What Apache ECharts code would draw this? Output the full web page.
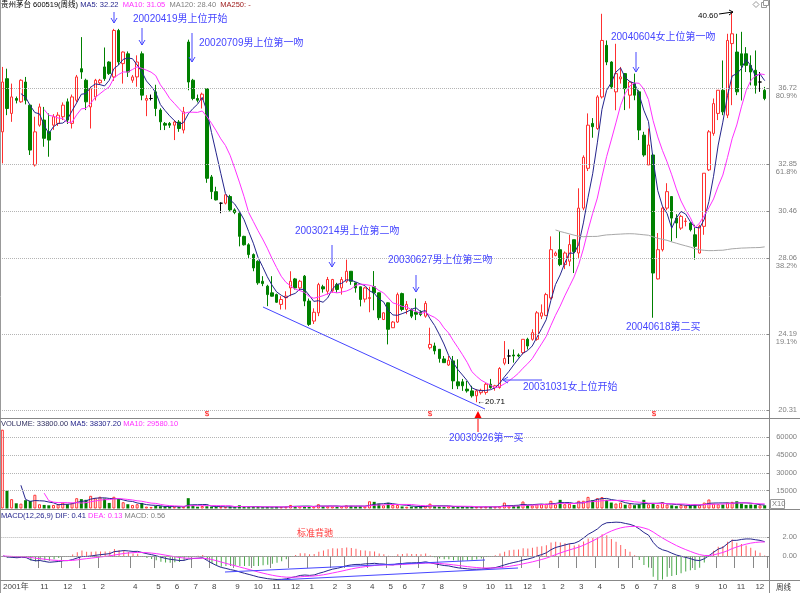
<!DOCTYPE html>
<html>
<head>
<meta charset="utf-8">
<title>贵州茅台 600519 周线</title>
<script src="https://cdn.jsdelivr.net/npm/echarts@6/dist/echarts.min.js"></script>
<style>
  html, body { margin: 0; padding: 0; background: #fff; }
  #main { width: 800px; height: 593px; }
</style>
</head>
<body>
<div id="main"></div>
<script>
// weekly bars: [open, close, low, high]
var kline = [
  [34.50, 37.04, 32.89, 37.81], [37.21, 35.69, 35.35, 37.72], [35.44, 36.28, 35.01, 36.96], [36.20, 36.11, 35.95, 36.30],
  [36.03, 37.13, 35.98, 37.18], [37.04, 36.11, 35.90, 37.30], [35.86, 33.57, 33.32, 35.90], [32.81, 34.50, 32.73, 35.27],
  [34.84, 35.77, 34.76, 35.94], [35.10, 34.17, 33.74, 35.77], [34.50, 34.08, 33.23, 35.44], [34.84, 35.27, 34.60, 35.40],
  [34.93, 35.35, 34.80, 35.50], [35.27, 35.86, 35.10, 36.00], [36.03, 35.10, 34.90, 36.20], [34.93, 36.28, 34.67, 36.40],
  [36.11, 37.30, 36.00, 37.40], [37.72, 37.55, 37.20, 39.33], [37.13, 36.03, 35.61, 37.21], [35.77, 36.70, 34.67, 36.80],
  [36.28, 37.13, 36.10, 37.20], [37.00, 37.13, 36.90, 37.20], [37.81, 37.21, 37.10, 38.80], [38.06, 37.47, 37.40, 38.10],
  [37.30, 39.67, 37.10, 39.75], [39.67, 38.06, 37.90, 39.75], [37.98, 38.57, 36.96, 38.60], [38.48, 37.55, 37.30, 38.60],
  [37.13, 37.30, 37.00, 37.40], [37.30, 38.06, 36.80, 38.40], [38.48, 36.37, 36.11, 38.60], [36.11, 36.20, 35.30, 36.37],
  [36.20, 36.20, 36.10, 36.40], [36.54, 35.69, 35.30, 36.90], [35.61, 35.01, 34.59, 35.70], [34.93, 34.84, 34.59, 35.00],
  [34.93, 34.84, 34.70, 35.00], [34.84, 35.00, 34.08, 35.10], [35.00, 34.67, 34.50, 35.10], [34.59, 35.52, 34.42, 35.77],
  [39.08, 37.04, 36.62, 39.20], [37.13, 36.20, 36.11, 37.20], [36.20, 36.11, 36.00, 36.40], [36.15, 36.42, 35.69, 36.50],
  [36.70, 32.13, 31.90, 36.72], [32.20, 31.45, 31.07, 32.30], [31.45, 31.03, 31.00, 31.70], [30.86, 30.86, 30.35, 30.90],
  [30.86, 31.29, 30.80, 31.30], [31.20, 30.52, 30.44, 31.29], [30.52, 30.39, 30.30, 30.60], [30.35, 29.17, 28.66, 30.40],
  [29.17, 28.74, 28.70, 29.20], [28.74, 28.24, 28.07, 28.82], [28.24, 27.56, 27.39, 28.30], [27.90, 26.80, 26.70, 27.95],
  [26.88, 26.76, 26.63, 27.14], [26.63, 26.20, 25.61, 26.70], [26.29, 26.12, 26.10, 27.14], [26.20, 25.81, 25.78, 26.25],
  [25.70, 25.95, 25.44, 26.12], [26.04, 26.12, 25.44, 26.37], [26.54, 26.88, 26.12, 27.39], [27.00, 26.54, 26.46, 27.05],
  [26.54, 26.88, 26.40, 26.95], [27.14, 25.87, 25.61, 27.20], [25.87, 24.68, 24.60, 26.00], [24.85, 25.30, 24.70, 25.50],
  [25.27, 26.71, 25.10, 26.80], [26.60, 26.49, 26.30, 26.70], [26.37, 26.97, 26.20, 27.10], [26.40, 26.97, 26.30, 27.00],
  [26.71, 26.46, 26.30, 26.80], [26.54, 26.97, 26.20, 27.10], [26.88, 27.39, 26.80, 27.98], [27.39, 26.88, 26.70, 27.40],
  [26.80, 26.54, 26.30, 26.80], [26.60, 25.95, 25.60, 26.60], [25.97, 26.54, 25.80, 26.60], [26.00, 26.05, 25.30, 26.60],
  [26.60, 26.29, 25.40, 27.40], [26.29, 25.02, 24.90, 26.30], [24.93, 25.27, 24.90, 25.30], [25.78, 24.43, 23.66, 25.80],
  [24.51, 24.80, 24.50, 24.85], [24.80, 26.20, 24.75, 26.30], [26.25, 25.44, 25.35, 26.30], [25.44, 25.70, 25.20, 25.87],
  [25.44, 25.10, 25.00, 25.50], [25.30, 25.20, 24.90, 26.00], [25.30, 25.18, 25.10, 25.40], [25.10, 25.75, 25.02, 25.87],
  [23.49, 23.66, 23.40, 24.51], [23.58, 23.33, 23.15, 23.75], [23.41, 22.94, 22.73, 23.41], [22.92, 22.73, 22.73, 23.07],
  [22.61, 22.85, 22.56, 23.07], [22.82, 21.80, 21.38, 23.07], [21.75, 21.55, 21.38, 22.90], [21.75, 21.55, 21.29, 21.90],
  [21.38, 21.29, 21.20, 21.80], [21.29, 21.04, 20.95, 21.55], [21.04, 21.29, 20.71, 21.38], [21.20, 21.32, 21.10, 21.40],
  [21.21, 21.63, 21.10, 21.70], [21.63, 21.46, 21.40, 21.90], [21.46, 21.55, 21.30, 21.60], [21.46, 22.43, 21.40, 22.50],
  [22.70, 22.94, 22.60, 23.83], [23.07, 23.07, 22.66, 23.40], [23.12, 23.07, 22.73, 23.40], [23.12, 23.07, 23.00, 23.20],
  [23.24, 23.92, 23.15, 23.92], [23.92, 23.58, 23.40, 24.00], [23.92, 24.26, 23.85, 24.43], [23.92, 25.27, 23.85, 25.36],
  [25.10, 25.27, 24.95, 25.70], [25.14, 26.20, 25.10, 26.29], [26.03, 28.49, 25.95, 29.17], [28.20, 28.32, 28.15, 28.40],
  [28.49, 27.73, 27.65, 29.42], [27.73, 28.32, 27.50, 28.40], [27.90, 28.75, 27.65, 29.25], [29.00, 28.40, 27.30, 29.00],
  [28.32, 30.61, 28.07, 31.62], [30.61, 33.20, 30.50, 33.30], [32.64, 34.84, 32.50, 35.44], [34.93, 34.76, 34.20, 35.20],
  [34.67, 36.28, 34.60, 36.37], [36.28, 39.16, 36.20, 40.52], [38.91, 38.06, 37.90, 39.16], [38.06, 36.79, 36.70, 38.10],
  [36.54, 37.47, 35.60, 38.99], [37.20, 37.30, 36.96, 37.81], [37.47, 36.70, 35.61, 37.50], [36.37, 37.04, 35.69, 37.10],
  [36.96, 36.37, 36.11, 37.47], [36.54, 34.59, 34.08, 36.62], [34.33, 33.32, 33.23, 34.50], [32.81, 33.83, 32.81, 34.67],
  [33.32, 27.30, 25.02, 33.40], [27.00, 28.49, 26.97, 29.34], [28.49, 30.61, 28.40, 30.70], [30.61, 31.45, 30.50, 31.88],
  [31.20, 30.10, 28.91, 31.20], [30.10, 29.85, 29.08, 30.30], [29.59, 30.19, 29.50, 30.27], [29.93, 29.95, 29.68, 30.10],
  [29.85, 29.51, 29.42, 29.90], [29.25, 28.66, 27.98, 29.76], [28.32, 29.68, 28.30, 29.76], [29.68, 32.39, 29.25, 32.39],
  [32.56, 34.50, 32.50, 34.59], [34.42, 35.94, 34.30, 36.20], [35.44, 36.62, 35.10, 36.62], [36.62, 35.52, 35.35, 38.14],
  [35.35, 39.16, 35.20, 39.50], [39.00, 39.50, 35.86, 40.60], [38.57, 36.54, 36.37, 39.50], [38.48, 37.89, 36.10, 39.60],
  [38.48, 37.89, 37.55, 38.82], [37.89, 37.55, 36.87, 38.40], [37.64, 36.87, 36.45, 38.65], [37.04, 37.04, 36.54, 37.55],
  [36.62, 36.20, 36.11, 36.79]
];

var volume = [
  66400, 15000, 7900, 4400, 4100, 7000, 6400, 11600, 3600, 3000,
  2700, 3000, 3600, 5000, 3600, 4700, 8700, 7900, 7300, 10700,
  8700, 9900, 8400, 4700, 9900, 7900, 5300, 3600, 3000, 3600,
  4700, 1600, 1300, 2100, 1900, 1300, 1500, 1300, 1500, 1500,
  8700, 2700, 1500, 2100, 1900, 1500, 1300, 1200, 1300, 1500,
  1200, 2700, 1300, 1200, 1500, 1400, 1200, 1300, 1100, 1400,
  1300, 1500, 3000, 2000, 1900, 1700, 1500, 1600, 3600, 1800,
  1900, 1700, 1600, 2000, 2700, 2200, 1700, 1800, 1600, 6100,
  5600, 4100, 2700, 4700, 3000, 3000, 1700, 1500, 1500, 1300,
  2000, 2000, 4100, 1900, 1700, 1500, 2000, 1500, 1300, 1300,
  1200, 1500, 1300, 1300, 1600, 1400, 1500, 2000, 5000, 2000,
  2200, 2500, 5900, 3000, 2600, 3600, 3600, 4100, 6500, 3500,
  7300, 3600, 4000, 3000, 6500, 6500, 9800, 7000, 8700, 9600,
  7300, 5000, 4200, 5000, 3200, 3600, 2800, 3600, 7300, 3600,
  4500, 3000, 5300, 3300, 2700, 2000, 3000, 2500, 2700, 3300,
  3000, 5000, 7600, 4100, 3600, 3300, 5000, 5600, 6100, 4100,
  3000, 3300, 3000, 2700, 2700
];

// month marks on the time axis (index of first week of each month)
var monthTickIdx = [0, 8, 13, 17, 21, 28, 33, 37, 41, 45, 50, 54, 58, 62, 66, 71, 74, 79, 83, 86, 90, 94, 99, 104, 108, 112, 116, 120, 124, 128, 133, 136, 140, 144, 149, 154, 158, 162];
var monthLabels = ['2001年', '11', '12', '1', '2', '4', '5', '6', '7', '8', '9', '10', '11', '12', '1', '2', '3', '4', '5', '6', '7', '8', '9', '10', '11', '12', '1', '2', '3', '4', '5', '6', '7', '8', '9', '10', '11', '12'];

var priceTicks = [36.72, 32.85, 30.46, 28.06, 24.19, 20.31];
var priceTickPct = ['80.9%', '61.8%', '', '38.2%', '19.1%', ''];
var volTicks = [60000, 45000, 30000, 15000];
var macdTicks = [2, 0];

var weeks = kline.map(function (d, i) { return String(i); });
var closes = kline.map(function (d) { return d[1]; });

function calcMA(arr, n) {
  var out = [];
  for (var i = 0; i < arr.length; i++) {
    if (i < n - 1) { out.push('-'); continue; }
    var s = 0;
    for (var j = 0; j < n; j++) s += arr[i - j];
    out.push(+(s / n).toFixed(3));
  }
  return out;
}

function calcMACD(close) {
  var e12 = 0, e26 = 0, dea = 0;
  var res = { dif: [], dea: [], macd: [] };
  close.forEach(function (c, i) {
    e12 = i ? e12 * 11 / 13 + c * 2 / 13 : c;
    e26 = i ? e26 * 25 / 27 + c * 2 / 27 : c;
    var d = e12 - e26;
    dea = dea * 0.8 + d * 0.2;
    res.dif.push(+d.toFixed(4));
    res.dea.push(+dea.toFixed(4));
    res.macd.push(+(2 * (d - dea)).toFixed(4));
  });
  return res;
}

var macd = calcMACD(closes);

var RED = '#ff3030', GREEN = '#008000', NAVY = '#24248c', PINK = '#ff30ff', GREY = '#808080';
var FONT = '"Liberation Sans", "Noto Sans CJK SC", sans-serif';
var BLUE = '#4646ff';

var volData = volume.map(function (v, i) {
  var up = kline[i][1] >= kline[i][0];
  return { value: v, itemStyle: up ? { color: '#fff', borderColor: RED, borderWidth: 1 } : { color: GREEN } };
});
var histData = macd.macd.map(function (v) {
  return { value: v, itemStyle: { color: v >= 0 ? '#ff6060' : '#4aa84a' } };
});

function isMonth(idx) { return monthTickIdx.indexOf(idx) >= 0; }
function gridDots(vals) {
  return {
    silent: true, symbol: 'none', label: { show: false },
    lineStyle: { color: '#b4b4b4', type: 'dotted', width: 1 },
    data: vals.map(function (v) { return { yAxis: v }; })
  };
}

var myChart = echarts.init(document.getElementById('main'));

var graphics = [];
function addText(x, y, s, color, size, extra) {
  var st = { text: s, fill: color, font: size + 'px ' + FONT, textVerticalAlign: 'middle' };
  if (extra) for (var k in extra) st[k] = extra[k];
  graphics.push({ type: 'text', x: x, y: y, style: st, z: 100 });
}
function addLine(x1, y1, x2, y2, color) {
  graphics.push({ type: 'line', shape: { x1: x1, y1: y1, x2: x2, y2: y2 }, style: { stroke: color, lineWidth: 1 }, z: 100 });
}
function arrowDown(x, y1, y2, color) {
  addLine(x, y1, x, y2, color);
  graphics.push({ type: 'polyline', shape: { points: [[x - 3, y2 - 5], [x, y2], [x + 3, y2 - 5]] }, style: { stroke: color, fill: null, lineWidth: 1 }, z: 100 });
}

// headers
graphics.push({
  type: 'text', x: 1, y: 5, z: 100,
  style: {
    text: '{a|贵州茅台 600519(周线)} {b|MA5: 32.22}  {c|MA10: 31.05}  {d|MA120: 28.40}  {e|MA250: -}',
    font: '7.5px ' + FONT, textVerticalAlign: 'middle',
    rich: { a: { fill: '#000' }, b: { fill: NAVY }, c: { fill: PINK }, d: { fill: GREY }, e: { fill: '#a02020' } }
  }
});
graphics.push({
  type: 'text', x: 1, y: 424, z: 100,
  style: {
    text: '{a|VOLUME: 33800.00} {b|MA5: 38307.20} {c|MA10: 29580.10}',
    font: '7.5px ' + FONT, textVerticalAlign: 'middle',
    rich: { a: { fill: '#303060' }, b: { fill: NAVY }, c: { fill: PINK } }
  }
});
graphics.push({
  type: 'text', x: 1, y: 516, z: 100,
  style: {
    text: '{a|MACD(12,26,9) DIF: 0.41} {b|DEA: 0.13} {c|MACD: 0.56}',
    font: '7.5px ' + FONT, textVerticalAlign: 'middle',
    rich: { a: { fill: NAVY }, b: { fill: PINK }, c: { fill: GREY } }
  }
});

// annotations
arrowDown(114, 12, 23, BLUE);
arrowDown(142, 28, 45, BLUE);
addText(133, 19, '20020419男上位开始', BLUE, 10);
arrowDown(192, 33, 62, BLUE);
addText(199, 43, '20020709男上位第一吻', BLUE, 10);
arrowDown(332, 245, 267, BLUE);
addText(295, 231, '20030214男上位第二吻', BLUE, 10);
arrowDown(416, 275, 292, BLUE);
addText(388, 260, '20030627男上位第三吻', BLUE, 10);
arrowDown(636, 52, 72, BLUE);
addText(611, 37, '20040604女上位第一吻', BLUE, 10);
addText(626, 327, '20040618第二买', BLUE, 10);
addLine(503, 380, 542, 380, BLUE);
graphics.push({ type: 'polyline', shape: { points: [[508, 377], [503, 380], [508, 383]] }, style: { stroke: BLUE, fill: null, lineWidth: 1 }, z: 100 });
addText(523, 387, '20031031女上位开始', BLUE, 10);
addText(449, 438, '20030926第一买', BLUE, 10);
addLine(478, 416, 478, 432, '#ff0000');
graphics.push({ type: 'polygon', shape: { points: [[474.5, 418], [478, 411], [481.5, 418]] }, style: { fill: '#ff0000' }, z: 100 });
addText(477, 402, '←20.71', '#000', 8);
addText(698, 16, '40.60', '#000', 8);
addLine(719, 14, 733, 12, '#000');
graphics.push({ type: 'polyline', shape: { points: [[729, 10], [733, 12], [729, 15]] }, style: { stroke: '#000', fill: null, lineWidth: 1 }, z: 100 });
addLine(263, 307, 485, 409, BLUE);
[207, 430, 654].forEach(function (x) { addText(x, 414, '$', '#ff0000', 8, { textAlign: 'center' }); });
addLine(225, 572, 485, 560, BLUE);
addLine(277, 580, 518, 568, BLUE);
addText(297, 534, '标准背驰', '#ff3030', 9);
// frame
addLine(0.5, 0, 0.5, 593, '#999');
addLine(769.5, 0, 769.5, 593, '#888');
addLine(0, 418.5, 800, 418.5, '#888');
addLine(0, 509.5, 800, 509.5, '#888');
addLine(0, 580.5, 800, 580.5, '#888');
graphics.push({ type: 'rect', shape: { x: 770.5, y: 499.5, width: 14, height: 9 }, style: { stroke: '#999', fill: '#fff' }, z: 100 });
addText(772, 504, 'X10', GREY, 7.5);
addText(776, 588, '周线', '#333', 7.5);
graphics.push({ type: 'polygon', shape: { points: [[756, 1.5], [759, 4.5], [756, 7.5], [753, 4.5]] }, style: { stroke: '#999', fill: null }, z: 100 });
graphics.push({ type: 'rect', shape: { x: 761.5, y: 2.5, width: 5, height: 5 }, style: { stroke: '#999', fill: '#fff' }, z: 100 });
graphics.push({ type: 'rect', shape: { x: 763.5, y: 0.5, width: 5, height: 5 }, style: { stroke: '#999', fill: '#fff' }, z: 100 });

function yAxisCfg(grid, min, max, ticks, fmt) {
  return {
    type: 'value', gridIndex: grid, position: 'right', min: min, max: max,
    axisLine: { show: false },
    splitLine: { show: false },
    axisTick: { show: true, customValues: ticks, length: 3, lineStyle: { color: '#888' } },
    axisLabel: {
      customValues: ticks, formatter: fmt, align: 'right', margin: 30,
      fontSize: 7.5, fontFamily: FONT, color: GREY,
      rich: { e: { fontSize: 7.5, lineHeight: 8 }, v: { fontSize: 7.5, lineHeight: 8, color: GREY }, p: { fontSize: 7.5, lineHeight: 8, color: GREY } }
    }
  };
}

var option = {
  animation: false,
  backgroundColor: '#fff',
  grid: [
    { left: 0, right: 31, top: 0, height: 418 },
    { left: 0, right: 31, top: 418, height: 90.5 },
    { left: 0, right: 31, top: 509, height: 71 }
  ],
  xAxis: [0, 1, 2].map(function (g) {
    return {
      type: 'category', gridIndex: g, data: weeks, boundaryGap: true,
      axisLine: { show: g === 2, lineStyle: { color: '#888' } },
      axisTick: { show: g === 2, interval: isMonth, length: 12, lineStyle: { color: '#888' } },
      axisLabel: {
        show: g === 2, interval: isMonth, align: 'left', margin: 3,
        fontSize: 8, fontFamily: FONT, color: '#444',
        formatter: function (v, idx) { var k = monthTickIdx.indexOf(idx); return k >= 0 ? monthLabels[k] : ''; }
      },
      splitLine: { show: false }
    };
  }),
  yAxis: [
    yAxisCfg(0, 19.907, 41.223, priceTicks, function (v) {
      var k = -1;
      priceTicks.forEach(function (t, i) { if (Math.abs(t - v) < 1e-6) k = i; });
      if (k < 0) return '';
      return priceTickPct[k] ? '{e|}\n{v|' + v.toFixed(2) + '}\n{p|' + priceTickPct[k] + '}' : '{v|' + v.toFixed(2) + '}';
    }),
    yAxisCfg(1, 0, 76264, volTicks, function (v) { return String(v); }),
    yAxisCfg(2, -2.526, 4.947, macdTicks, function (v) { return v.toFixed(2); })
  ],
  series: [
    {
      type: 'candlestick', xAxisIndex: 0, yAxisIndex: 0, data: kline, barWidth: 3,
      itemStyle: { color: '#fff', color0: GREEN, borderColor: RED, borderColor0: GREEN, borderColorDoji: '#000', borderWidth: 1 },
      markLine: gridDots(priceTicks)
    },
    { type: 'line', xAxisIndex: 0, yAxisIndex: 0, data: calcMA(closes, 5), symbol: 'none', lineStyle: { color: NAVY, width: 1 } },
    { type: 'line', xAxisIndex: 0, yAxisIndex: 0, data: calcMA(closes, 10), symbol: 'none', lineStyle: { color: PINK, width: 1 } },
    { type: 'line', xAxisIndex: 0, yAxisIndex: 0, data: calcMA(closes, 120), symbol: 'none', lineStyle: { color: '#a8a8a8', width: 1 } },
    { type: 'bar', xAxisIndex: 1, yAxisIndex: 1, data: volData, barWidth: 3, markLine: gridDots(volTicks) },
    { type: 'line', xAxisIndex: 1, yAxisIndex: 1, data: calcMA(volume, 5), symbol: 'none', lineStyle: { color: NAVY, width: 1 } },
    { type: 'line', xAxisIndex: 1, yAxisIndex: 1, data: calcMA(volume, 10), symbol: 'none', lineStyle: { color: PINK, width: 1 } },
    { type: 'bar', xAxisIndex: 2, yAxisIndex: 2, data: histData, barWidth: 1, markLine: gridDots(macdTicks) },
    { type: 'line', xAxisIndex: 2, yAxisIndex: 2, data: macd.dif, symbol: 'none', lineStyle: { color: NAVY, width: 1 } },
    { type: 'line', xAxisIndex: 2, yAxisIndex: 2, data: macd.dea, symbol: 'none', lineStyle: { color: PINK, width: 1 } }
  ],
  graphic: { elements: graphics }
};

myChart.setOption(option);
</script>
</body>
</html>
